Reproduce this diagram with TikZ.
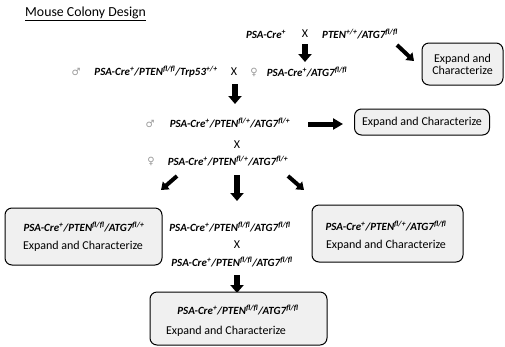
\documentclass[tikz,border=0pt]{standalone}
\usepackage{fontspec}
\setmainfont{Carlito}
\newfontfamily\symfont{DejaVu Sans}
\usetikzlibrary{arrows.meta}
\newcommand{\spx}[1]{\textsuperscript{#1}}
\newcommand{\male}{{\symfont\color{black!40}♂}}
\newcommand{\female}{{\symfont\color{black!40}♀}}
\begin{document}
\begin{tikzpicture}[x=1pt,y=-1pt,
  geno/.style={font=\fontsize{11}{13}\selectfont\bfseries\itshape, inner sep=0pt},
  plain/.style={font=\fontsize{12}{14}\selectfont, inner sep=0pt},
  sym/.style={font=\fontsize{10}{12}\selectfont, inner sep=0pt},
  cross/.style={font=\fontsize{12}{14}\selectfont, inner sep=0pt},
  ebox/.style={draw=black, line width=1pt, rounded corners=7pt, fill=black!6, align=center, inner sep=0pt},
  bigarrow/.style={line width=5.5pt, -{Triangle[width=13pt,length=8pt]}},
  smallarrow/.style={line width=4pt, -{Triangle[width=10pt,length=7pt]}}
]
\useasboundingbox[fill=white] (0,0) rectangle (505,346);

% title
\node[inner sep=0pt, anchor=west, font=\fontsize{13.8}{15}\selectfont] (title) at (25,14) {\underline{Mouse Colony Design}};

% row 1
\node[geno] (psa1) at (266,34) {PSA-Cre\spx{+}};
\node[cross] (x1) at (305,34) {X};
\node[geno] (pten1) at (360,34) {PTEN\spx{+/+}/ATG7\spx{fl/fl}};
\coordinate (a1s) at (305,44); \coordinate (a1e) at (305,62);
\draw[bigarrow] (a1s) -- (a1e);
\coordinate (d1s) at (397,45); \coordinate (d1e) at (414,61);
\draw[smallarrow] (d1s) -- (d1e);
\node[ebox, minimum width=81pt, minimum height=42pt, font=\fontsize{12}{12}\selectfont] (box1) at (462.5,64) {Expand and\\Characterize};

% row 2
\node[sym] (m2) at (76,72) {\male};
\node[geno] (g2a) at (156,72) {PSA-Cre\spx{+}/PTEN\spx{fl/fl}/Trp53\spx{+/+}};
\node[cross] (x2) at (234,72) {X};
\node[sym] (f2) at (254,72) {\female};
\node[geno] (g2b) at (307,72) {PSA-Cre\spx{+}/ATG7\spx{fl/fl}};
\coordinate (a2s) at (235,84); \coordinate (a2e) at (235,104);
\draw[bigarrow] (a2s) -- (a2e);

% row 3
\node[sym] (m3) at (150,124) {\male};
\node[geno] (g3) at (230,123) {PSA-Cre\spx{+}/PTEN\spx{fl/+}/ATG7\spx{fl/+}};
\coordinate (a3s) at (308,124); \coordinate (a3e) at (343,124);
\draw[line width=5pt, -{Triangle[width=11pt,length=10pt]}] (a3s) -- (a3e);
\node[ebox, minimum width=135pt, minimum height=26pt, font=\fontsize{12}{14}\selectfont] (box2) at (422,122) {Expand and Characterize};

\node[cross] (x3) at (237,145) {X};
\node[sym] (f4) at (151,161) {\female};
\node[geno] (g4) at (228,161) {PSA-Cre\spx{+}/PTEN\spx{fl/+}/ATG7\spx{fl/+}};

% three arrows
\coordinate (l1s) at (177,176); \coordinate (l1e) at (161,190);
\draw[smallarrow] (l1s) -- (l1e);
\coordinate (c1s) at (237,175); \coordinate (c1e) at (237,201);
\draw[bigarrow] (c1s) -- (c1e);
\coordinate (r1s) at (288,176); \coordinate (r1e) at (304,190);
\draw[smallarrow] (r1s) -- (r1e);

% left box
\node[ebox, minimum width=157pt, minimum height=57pt] (boxL) at (83.5,236.5) {};
\node[geno] (gL) at (84,227) {PSA-Cre\spx{+}/PTEN\spx{fl/fl}/ATG7\spx{fl/+}};
\node[plain] (tL) at (83,246) {Expand and Characterize};

% center
\node[geno] (gc1) at (230,227) {PSA-Cre\spx{+}/PTEN\spx{fl/fl}/ATG7\spx{fl/fl}};
\node[cross] (xc) at (237,245) {X};
\node[geno] (gc2) at (232,262) {PSA-Cre\spx{+}/PTEN\spx{fl/fl}/ATG7\spx{fl/fl}};

% right box
\node[ebox, minimum width=151pt, minimum height=57pt] (boxR) at (387.5,233.5) {};
\node[geno] (gR) at (386,226) {PSA-Cre\spx{+}/PTEN\spx{fl/+}/ATG7\spx{fl/fl}};
\node[plain] (tR) at (386,245) {Expand and Characterize};

% bottom
\coordinate (bs) at (237,275); \coordinate (be) at (237,293);
\draw[bigarrow] (bs) -- (be);
\node[ebox, minimum width=177pt, minimum height=53pt] (boxB) at (238.5,318.5) {};
\node[geno] (gB) at (238,310) {PSA-Cre\spx{+}/PTEN\spx{fl/fl}/ATG7\spx{fl/fl}};
\node[plain] (tB) at (226,331) {Expand and Characterize};
\end{tikzpicture}
\end{document}
